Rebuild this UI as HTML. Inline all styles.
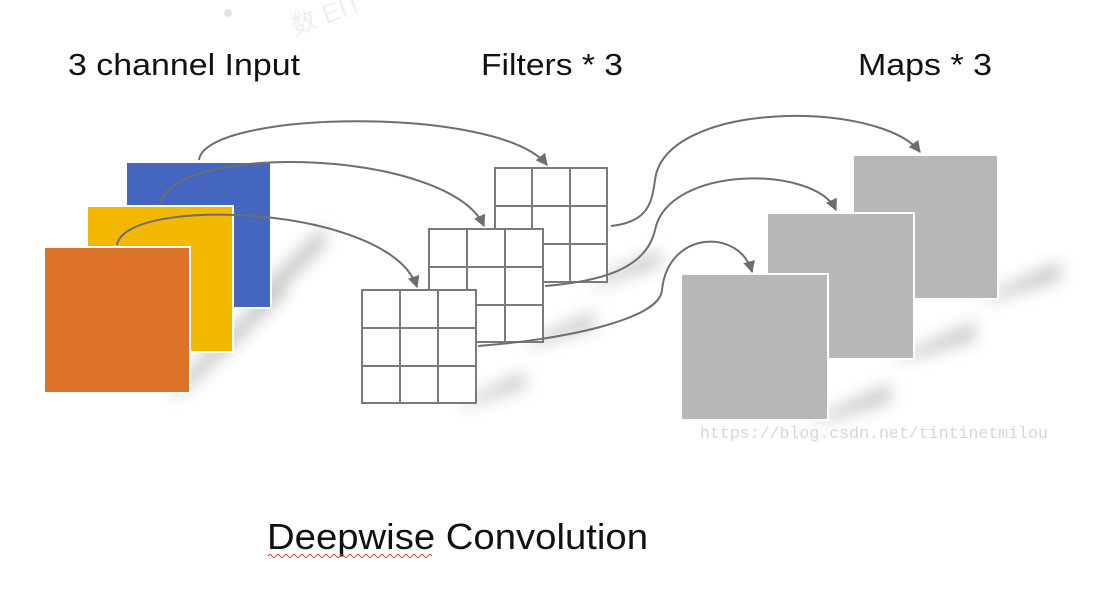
<!DOCTYPE html>
<html><head><meta charset="utf-8"><style>
html,body{margin:0;padding:0;background:#fff;}
svg{display:block;}
text{font-family:"Liberation Sans",sans-serif;}
</style></head><body>
<svg width="1118" height="608" viewBox="0 0 1118 608" xmlns="http://www.w3.org/2000/svg">
<defs>
<filter id="bl" x="-50%" y="-50%" width="200%" height="200%"><feGaussianBlur stdDeviation="8"/></filter>
<marker id="ar" viewBox="0 0 10 10" refX="9" refY="5" markerWidth="12" markerHeight="12" orient="auto" markerUnits="userSpaceOnUse">
<path d="M0,0 L10,5 L0,10 z" fill="#6e6e6e"/></marker>
</defs>
<!-- watermark -->
<circle cx="228" cy="13" r="4" fill="#e3e3e3"/>
<text x="290" y="22" font-size="26" fill="#eeeeee" transform="rotate(-20 330 15)">数 EIT</text>

<text x="68" y="75" font-size="31" fill="#111" textLength="232" lengthAdjust="spacingAndGlyphs">3 channel Input</text>
<text x="481" y="75" font-size="31" fill="#111" textLength="142" lengthAdjust="spacingAndGlyphs">Filters * 3</text>
<text x="858" y="75" font-size="31" fill="#111" textLength="134" lengthAdjust="spacingAndGlyphs">Maps * 3</text>

<!-- shadows -->
<g fill="#aaa" filter="url(#bl)" opacity="0.7">
<polygon points="250,300 325,225 325,245 260,310"/>
<polygon points="215,345 285,275 285,295 225,352"/>
<polygon points="170,390 245,315 245,335 180,395"/>
<polygon points="590,282 660,250 660,265 600,285"/>
<polygon points="525,342 595,312 595,327 535,345"/>
<polygon points="460,403 525,372 525,387 470,405"/>
<polygon points="980,298 1060,262 1060,280 990,300"/>
<polygon points="895,358 975,322 975,340 905,360"/>
<polygon points="810,420 890,384 890,402 820,422"/>
</g>

<!-- input squares -->
<rect x="126" y="162" width="145" height="146" fill="#4566c0" stroke="#fff" stroke-width="2"/>
<rect x="87" y="206" width="146" height="146" fill="#f2b800" stroke="#fff" stroke-width="2"/>
<rect x="44" y="247" width="146" height="146" fill="#dc7329" stroke="#fff" stroke-width="2"/>

<!-- grids -->
<g stroke="#7a7a7a" stroke-width="2" fill="#fff">
<rect x="495" y="168" width="112" height="114"/>
<path d="M532,168V282M570,168V282M495,206H607M495,244H607" fill="none"/>
<rect x="429" y="229" width="114" height="113"/>
<path d="M467,229V342M505,229V342M429,267H543M429,305H543" fill="none"/>
<rect x="362" y="290" width="114" height="113"/>
<path d="M400,290V403M438,290V403M362,328H476M362,366H476" fill="none"/>
</g>

<!-- maps -->
<g fill="#b7b7b7" stroke="#fff" stroke-width="2">
<rect x="853" y="155" width="145" height="144"/>
<rect x="767" y="213" width="147" height="146"/>
<rect x="681" y="274" width="147" height="146"/>
</g>

<!-- arrows -->
<g fill="none" stroke="#6e6e6e" stroke-width="2" marker-end="url(#ar)">
<path d="M199,160 C205,110 500,105 547,165"/>
<path d="M159,205 C175,140 450,150 484,226"/>
<path d="M117,245 C125,195 390,205 417,287"/>
<path d="M611,226 C650,222 652,200 655,180 C665,100 880,100 920,152"/>
<path d="M545,286 C620,280 648,260 655,230 C668,165 815,165 836,210"/>
<path d="M478,346 C560,340 660,320 662,290 C668,230 740,228 752,272"/>
</g>

<text x="700" y="438" font-size="17" fill="#d6d6d6" textLength="348" lengthAdjust="spacingAndGlyphs" style="font-family:'Liberation Mono',monospace">https://blog.csdn.net/tintinetmilou</text>

<text x="267" y="549" font-size="36" fill="#111" textLength="381" lengthAdjust="spacingAndGlyphs">Deepwise Convolution</text>
<path d="M268,556 q2,-3 4,0 t4,0 t4,0 t4,0 t4,0 t4,0 t4,0 t4,0 t4,0 t4,0 t4,0 t4,0 t4,0 t4,0 t4,0 t4,0 t4,0 t4,0 t4,0 t4,0 t4,0 t4,0 t4,0 t4,0 t4,0 t4,0 t4,0 t4,0 t4,0 t4,0 t4,0 t4,0 t4,0 t4,0 t4,0 t4,0 t4,0 t4,0 t4,0 t4,0 t4,0" fill="none" stroke="#e03030" stroke-width="1"/>
</svg>
</body></html>
